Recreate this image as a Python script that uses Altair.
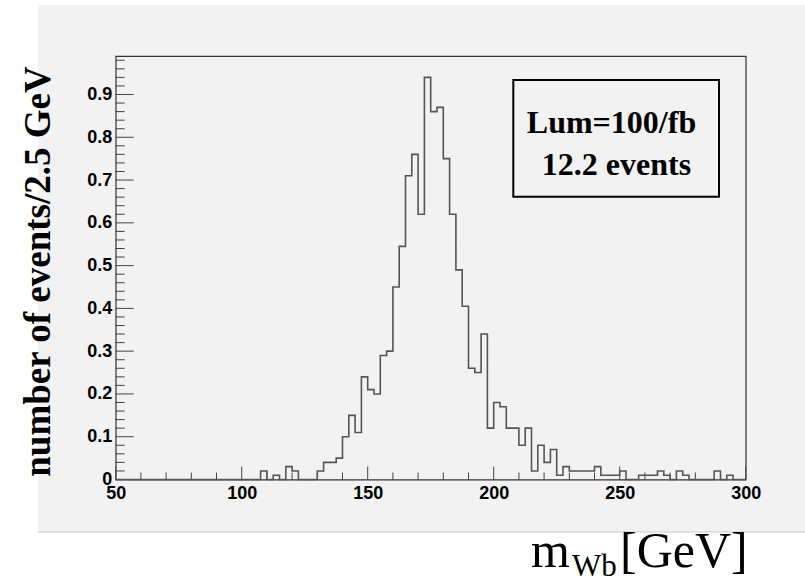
import altair as alt
import numpy as np
import pandas as pd

# Histogram: m_Wb in 2.5 GeV bins from 50 to 300 GeV (normalised to 100/fb)
BIN_LO = 50.0
BIN_HI = 300.0
BIN_W = 2.5
counts = (
    [0, 0, 0, 0, 0, 0, 0, 0, 0, 0]                                   # 50 - 75
    + [0, 0, 0, 0, 0, 0, 0, 0, 0, 0]                                 # 75 - 100
    + [0, 0, 0, 0.02, 0, 0.01, 0, 0.03, 0.02, 0]                     # 100 - 125
    + [0, 0, 0.02, 0.04, 0.04, 0.05, 0.10, 0.15, 0.11, 0.24]         # 125 - 150
    + [0.21, 0.20, 0.29, 0.30, 0.45, 0.545, 0.71, 0.76, 0.62, 0.94]  # 150 - 175
    + [0.86, 0.87, 0.75, 0.62, 0.49, 0.405, 0.26, 0.25, 0.34, 0.12]  # 175 - 200
    + [0.18, 0.17, 0.12, 0.12, 0.08, 0.12, 0.02, 0.08, 0.04, 0.07]   # 200 - 225
    + [0.01, 0.03, 0.02, 0.02, 0.02, 0.02, 0.03, 0.01, 0.01, 0.01]   # 225 - 250
    + [0.02, 0, 0, 0.01, 0.01, 0.01, 0.02, 0.01, 0, 0.02]            # 250 - 275
    + [0.01, 0, 0, 0, 0, 0.02, 0, 0.01, 0, 0]                        # 275 - 300
)

x_major = [50, 100, 150, 200, 250, 300]
x_minor = [v for v in range(60, 300, 10) if v % 50 != 0]
y_major = [0, 0.1, 0.2, 0.3, 0.4, 0.5, 0.6, 0.7, 0.8, 0.9]
y_minor = [round(v, 2) for v in np.arange(0.02, 0.99, 0.02) if round(v * 100) % 10 != 0]

Y_MAX = 0.99
legend_lines = ["Lum=100/fb", "12.2 events"]

# Geometry of the canvas (pixels)
W, H = 630, 423.5
LEFT, TOP = 115.7, 56
CANVAS_W, CANVAS_H = 805, 582
PANEL_LEFT, PANEL_BOTTOM = 38, 532

edges = [BIN_LO + BIN_W * i for i in range(len(counts))] + [BIN_HI]
hist = pd.DataFrame({"x": edges, "y": counts + [counts[-1]]})

X_SCALE = alt.Scale(domain=[BIN_LO, BIN_HI], nice=False, zero=False)
Y_SCALE = alt.Scale(domain=[0, Y_MAX], nice=False, zero=True)

X_AX = alt.Axis(
    values=x_major, title="", ticks=False, tickSize=0, domain=False, grid=False,
    labelFont="Liberation Sans", labelFontWeight="bold", labelFontSize=18,
    labelColor="black", labelPadding=5, labelFlush=False, labelOverlap=False,
    zindex=1,
)
Y_AX = alt.Axis(
    values=y_major, ticks=False, tickSize=0, domain=False, grid=False,
    labelExpr="datum.value == 0 ? '0' : format(datum.value, '.1f')",
    labelFont="Liberation Sans", labelFontWeight="bold", labelFontSize=18,
    labelColor="black", labelPadding=4, labelOverlap=False,
    title="number of events/2.5 GeV",
    titleFont="Liberation Serif", titleFontSize=37, titleFontWeight="bold",
    titleColor="black", titleAngle=270, titleAlign="center",
    titleBaseline="alphabetic", titleX=49 - LEFT, titleY=271 - TOP,
    zindex=1,
)

one = pd.DataFrame({"k": [0]})


def box(x0, x1, y0, y1, **kw):
    """Rectangle given in canvas pixels."""
    return alt.Chart(one).mark_rect(**kw).encode(
        x=alt.value(x0 - LEFT), x2=alt.value(x1 - LEFT),
        y=alt.value(y0 - TOP), y2=alt.value(y1 - TOP),
    )


def label(text, x, y, size, weight="normal", align="left"):
    return alt.Chart(one).mark_text(
        text=text, font="Liberation Serif", fontSize=size, fontWeight=weight,
        align=align, baseline="alphabetic", color="black",
    ).encode(x=alt.value(x - LEFT), y=alt.value(y - TOP))


# white surround outside the grey pad
white_left = box(0, PANEL_LEFT, 0, PANEL_BOTTOM, color="white")
white_top = box(0, CANVAS_W, 0, 5, color="white")
white_bottom = box(0, CANVAS_W, PANEL_BOTTOM, CANVAS_H, color="white")
pad_edge = alt.Chart(one).mark_rule(color="#cccccc", strokeWidth=1).encode(
    x=alt.value(PANEL_LEFT - LEFT), x2=alt.value(CANVAS_W - LEFT),
    y=alt.value(PANEL_BOTTOM - TOP),
)

# inward ticks
tick_col = "#444444"
y_major_ticks = alt.Chart(pd.DataFrame({"y": y_major})).mark_rule(
    color=tick_col, strokeWidth=1).encode(
    y=alt.Y("y:Q", scale=Y_SCALE, axis=Y_AX), x=alt.value(0), x2=alt.value(18))
y_minor_ticks = alt.Chart(pd.DataFrame({"y": y_minor})).mark_rule(
    color=tick_col, strokeWidth=1).encode(
    y=alt.Y("y:Q", scale=Y_SCALE, axis=Y_AX), x=alt.value(0), x2=alt.value(9))
x_major_ticks = alt.Chart(pd.DataFrame({"x": x_major})).mark_rule(
    color=tick_col, strokeWidth=1).encode(
    x=alt.X("x:Q", scale=X_SCALE, axis=X_AX), y=alt.value(H), y2=alt.value(H - 13))
x_minor_ticks = alt.Chart(pd.DataFrame({"x": x_minor})).mark_rule(
    color=tick_col, strokeWidth=1).encode(
    x=alt.X("x:Q", scale=X_SCALE, axis=X_AX), y=alt.value(H), y2=alt.value(H - 7))

histo = alt.Chart(hist).mark_line(
    interpolate="step-after", color="#555555", strokeWidth=1.6).encode(
    x=alt.X("x:Q", scale=X_SCALE, axis=X_AX),
    y=alt.Y("y:Q", scale=Y_SCALE, axis=Y_AX),
)

legend_box = box(513.3, 719, 80, 196.7, fill="#f2f2f2", stroke="black", strokeWidth=2)
legend_1 = label(legend_lines[0], 611.5, 133.3, 32, "bold", "center")
legend_2 = label(legend_lines[1], 616.5, 175, 32, "bold", "center")

x_title_m = label("m", 531, 567, 50)
x_title_sub = label("Wb", 572, 576, 31)
x_title_unit = label("[GeV]", 620, 567, 50)

chart = alt.layer(
    white_left, white_top, white_bottom, pad_edge,
    y_minor_ticks, y_major_ticks, x_minor_ticks, x_major_ticks,
    histo,
    legend_box, legend_1, legend_2,
    x_title_m, x_title_sub, x_title_unit,
).properties(
    width=W, height=H,
    autosize=alt.AutoSizeParams(type="none"),
    padding={"left": LEFT, "top": TOP, "right": CANVAS_W - LEFT - W,
             "bottom": CANVAS_H - TOP - H},
).configure(
    background="#f2f2f2",
).configure_view(
    stroke="#333333", strokeWidth=1.2,
)

chart.save("out.html", embed_options={"renderer": "svg", "actions": False})
